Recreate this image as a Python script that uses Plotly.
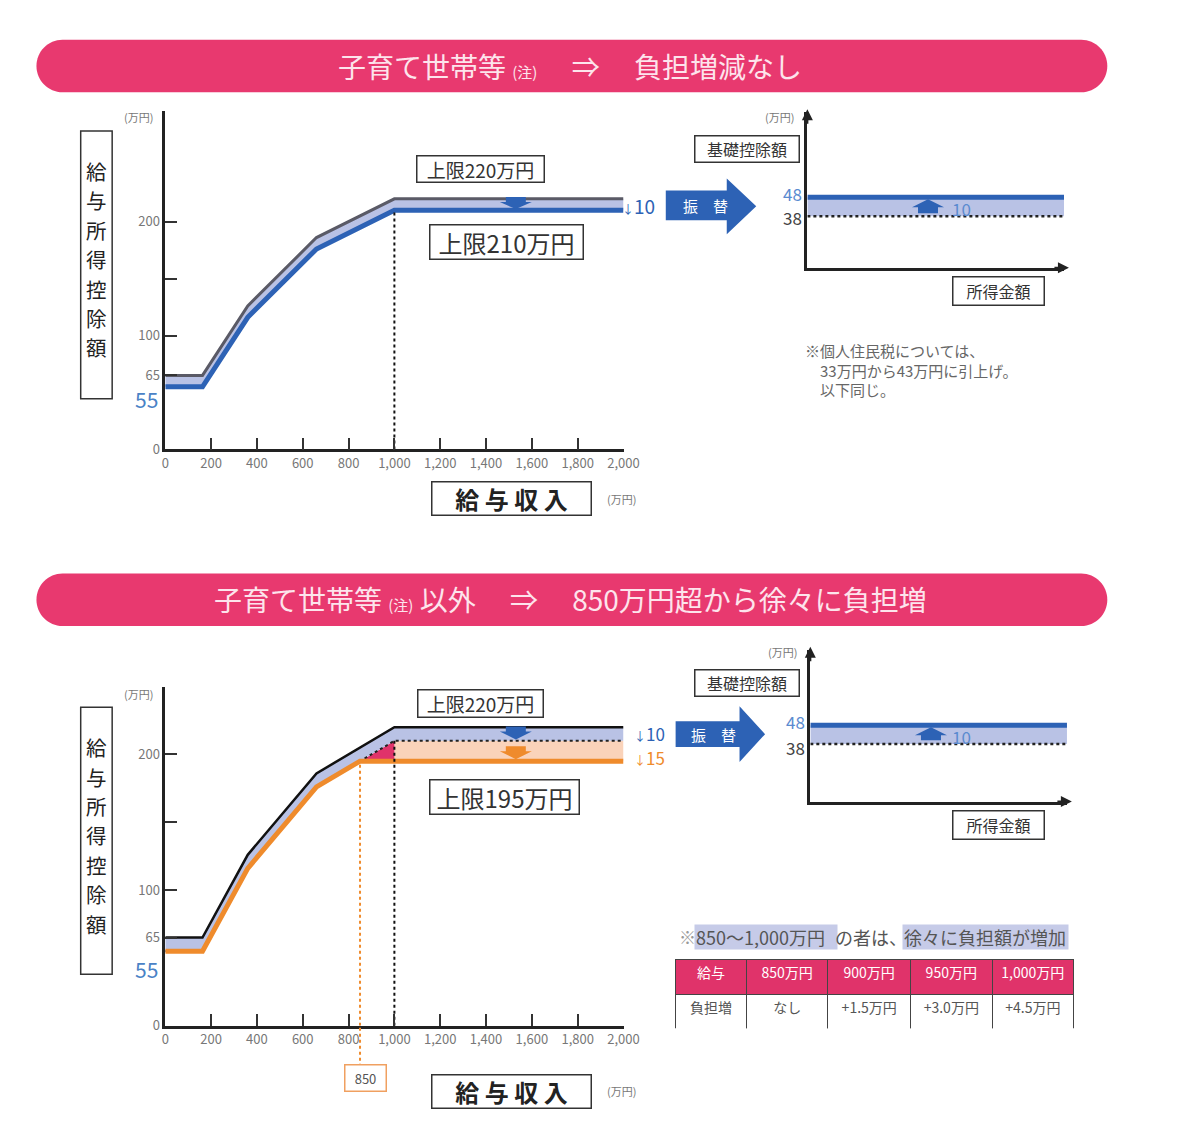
import numpy as np
import plotly.graph_objects as go

# ---------------- data ----------------
income_old = [0, 162.5, 360, 660, 1000, 2000]          # 給与収入 (万円)
deduction_old = [65, 65, 126, 186, 220, 220]            # 現行 給与所得控除額
income_child = [0, 162.5, 360, 660, 1000, 2000]
deduction_child = [55, 55, 116, 176, 210, 210]          # 子育て世帯等
income_other = [0, 162.5, 360, 660, 850, 2000]
deduction_other = [55, 55, 116, 176, 195, 195]          # 子育て世帯等以外
cap_income = 1000
threshold_income = 850
basic_old = 38
basic_new = 48
basic_x = [0, 100]
x_tickvals = list(range(0, 2001, 200))
y_tickvals = [0, 65, 100, 150, 200]
y_ticktext = ["0", "65", "100", "", "200"]
table_header = ["給与", "850万円", "900万円", "950万円", "1,000万円"]
table_row = ["負担増", "なし", "+1.5万円", "+3.0万円", "+4.5万円"]

# ---------------- style ----------------
W, H = 1200, 1139
FONT = "Noto Sans CJK JP, Noto Sans, sans-serif"
PINK = "#e8396f"
BLUE = "#2d62b5"
LAV = "#b9c2e5"
ORANGE = "#ef8b2c"
PEACH = "#fad3ba"
RED = "#e0336a"
AX = "#222222"
TICK = "#777777"


def px(x):
    return x / W


def py(y):
    return 1 - y / H


def pt(x, y):
    return f"{px(x):.5f},{py(y):.5f}"


fig = go.Figure()

# ---- top-left chart ----
fig.add_trace(go.Scatter(x=income_child, y=deduction_child, mode="lines",
                         line=dict(color=BLUE, width=5), xaxis="x", yaxis="y"))
fig.add_trace(go.Scatter(x=income_old, y=deduction_old, mode="lines", fill="tonexty",
                         fillcolor=LAV, line=dict(color="#5a5a66", width=3),
                         xaxis="x", yaxis="y"))
cap_child = float(np.interp(cap_income, income_child, deduction_child))
fig.add_trace(go.Scatter(x=[cap_income, cap_income], y=[0, cap_child], mode="lines",
                         line=dict(color="#111", width=2, dash="dot"), xaxis="x", yaxis="y"))

# ---- bottom-left chart ----
cap_other = deduction_other[-1]
thr_val = float(np.interp(threshold_income, income_child, deduction_child))
fig.add_trace(go.Scatter(x=[cap_income, income_child[-1], income_child[-1], cap_income],
                         y=[cap_child, deduction_child[-1], cap_other, cap_other],
                         mode="lines", fill="toself", fillcolor=PEACH, line=dict(width=0),
                         xaxis="x3", yaxis="y3"))
fig.add_trace(go.Scatter(x=[threshold_income, cap_income, cap_income],
                         y=[thr_val, cap_child, cap_other],
                         mode="lines", fill="toself", fillcolor=RED, line=dict(width=0),
                         xaxis="x3", yaxis="y3"))
fig.add_trace(go.Scatter(x=income_child, y=deduction_child, mode="lines",
                         line=dict(color="#222", width=2, dash="dot"), xaxis="x3", yaxis="y3"))
fig.add_trace(go.Scatter(x=income_old, y=deduction_old, mode="lines", fill="tonexty",
                         fillcolor=LAV, line=dict(color="#111", width=2.5),
                         xaxis="x3", yaxis="y3"))
fig.add_trace(go.Scatter(x=income_other, y=deduction_other, mode="lines",
                         line=dict(color=ORANGE, width=5), xaxis="x3", yaxis="y3"))
fig.add_trace(go.Scatter(x=[cap_income, cap_income], y=[0, cap_child], mode="lines",
                         line=dict(color="#111", width=2, dash="dot"), xaxis="x3", yaxis="y3"))
fig.add_trace(go.Scatter(x=[threshold_income, threshold_income], y=[0, thr_val], mode="lines",
                         line=dict(color=ORANGE, width=2, dash="dot"), xaxis="x3", yaxis="y3"))

# ---- mini charts (基礎控除) ----
for xa, ya in (("x2", "y2"), ("x4", "y4")):
    fig.add_trace(go.Scatter(x=basic_x, y=[basic_old, basic_old], mode="lines",
                             line=dict(color="#222", width=2.5, dash="dot"), xaxis=xa, yaxis=ya))
    fig.add_trace(go.Scatter(x=basic_x, y=[basic_new, basic_new], mode="lines", fill="tonexty",
                             fillcolor=LAV, line=dict(color=BLUE, width=5), xaxis=xa, yaxis=ya))

# ---- table ----
fig.add_trace(go.Table(
    domain=dict(x=[px(683), px(1088)], y=[py(1037), py(967)]),
    columnwidth=[72, 83, 84, 83, 83],
    header=dict(values=table_header, fill_color=RED, align="center", height=35,
                font=dict(color="white", size=14, family=FONT),
                line=dict(color="#444", width=1)),
    cells=dict(values=[[v] for v in table_row], fill_color="white", align="center", height=35,
               font=dict(color="#555", size=14, family=FONT),
               line=dict(color="#444", width=1)),
))

# ---------------- axes ----------------
main_x = dict(range=[0, 2000], tickvals=x_tickvals, tickformat=",", ticks="inside",
              ticklen=12, tickwidth=2, tickcolor="#333", showline=True, linewidth=2.5,
              linecolor=AX, showgrid=False, zeroline=False,
              tickfont=dict(size=13, color=TICK, family=FONT))
main_y = dict(tickvals=y_tickvals, ticktext=y_ticktext, ticks="inside", ticklen=12,
              tickwidth=2, tickcolor="#333", showline=True, linewidth=2.5, linecolor=AX,
              showgrid=False, zeroline=False, tickfont=dict(size=13, color=TICK, family=FONT))
mini_x = dict(range=[0, 100], showline=True, linewidth=2.5, linecolor=AX, showgrid=False,
              zeroline=False, showticklabels=False, ticks="")
mini_y = dict(showline=True, linewidth=2.5, linecolor=AX, showgrid=False, zeroline=False,
              ticks="", showticklabels=False)

fig.update_layout(
    width=W, height=H, margin=dict(l=0, r=0, t=0, b=0),
    paper_bgcolor="white", plot_bgcolor="rgba(0,0,0,0)", showlegend=False,
    xaxis=dict(domain=[px(164), px(630)], anchor="y", **main_x),
    yaxis=dict(domain=[py(453), py(112)], range=[0, 297], anchor="x", **main_y),
    xaxis3=dict(domain=[px(164), px(630)], anchor="y3", **main_x),
    yaxis3=dict(domain=[py(1034), py(692)], range=[0, 250], anchor="x3", **main_y),
    xaxis2=dict(domain=[px(817), px(1078)], anchor="y2", **mini_x),
    yaxis2=dict(domain=[py(270), py(113)], range=[10.6, 93.2], anchor="x2", **mini_y),
    xaxis4=dict(domain=[px(820), px(1081)], anchor="y4", **mini_x),
    yaxis4=dict(domain=[py(808), py(655)], range=[7.5, 88], anchor="x4", **mini_y),
)

# ---------------- shapes ----------------
shapes = []


def rounded_bar(x0, y0, x1, y1, color):
    r = (y1 - y0) / 2
    ym = (y0 + y1) / 2
    k = 0.5523 * r
    path = (f"M {pt(x0 + r, y0)} L {pt(x1 - r, y0)} "
            f"C {pt(x1 - r + k, y0)} {pt(x1, ym - k)} {pt(x1, ym)} "
            f"C {pt(x1, ym + k)} {pt(x1 - r + k, y1)} {pt(x1 - r, y1)} "
            f"L {pt(x0 + r, y1)} "
            f"C {pt(x0 + r - k, y1)} {pt(x0, ym + k)} {pt(x0, ym)} "
            f"C {pt(x0, ym - k)} {pt(x0 + r - k, y0)} {pt(x0 + r, y0)} Z")
    return dict(type="path", path=path, xref="paper", yref="paper",
                fillcolor=color, line=dict(width=0), layer="below")


def block_arrow(x0, xh, xt, sy0, sy1, hy0, hy1, color):
    ym = (hy0 + hy1) / 2
    path = (f"M {pt(x0, sy0)} L {pt(xh, sy0)} L {pt(xh, hy0)} L {pt(xt, ym)} "
            f"L {pt(xh, hy1)} L {pt(xh, sy1)} L {pt(x0, sy1)} Z")
    return dict(type="path", path=path, xref="paper", yref="paper",
                fillcolor=color, line=dict(width=0))


def small_arrow(xref, yref, xa, ya, color, down=True, h=12):
    # pixel-sized "house" arrow anchored at its tip
    s = 1 if down else -1
    hh = round(h * 0.6)
    path = (f"M 0,0 L {-16},{s * hh} L {-10},{s * hh} L {-10},{s * h} "
            f"L 10,{s * h} L 10,{s * hh} L 16,{s * hh} Z")
    return dict(type="path", xref=xref, yref=yref, xsizemode="pixel", ysizemode="pixel",
                xanchor=xa, yanchor=ya, path=path, fillcolor=color, line=dict(width=0))


def rect(x0, y0, x1, y1, color="#333"):
    return dict(type="rect", xref="paper", yref="paper", x0=px(x0), x1=px(x1),
                y0=py(y1), y1=py(y0), line=dict(color=color, width=1.5), fillcolor="white",
                layer="below")


shapes.append(rounded_bar(33, 40, 1122, 93, PINK))
shapes.append(rounded_bar(33, 578, 1122, 631, PINK))
shapes.append(block_arrow(673, 735, 765, 192, 222, 180, 236, BLUE))
shapes.append(block_arrow(683, 748, 774, 727, 753, 712, 768, BLUE))
shapes.append(dict(type="line", xref="x3", yref="paper", x0=threshold_income, x1=threshold_income,
                   y0=py(1036), y1=py(1073), line=dict(color=ORANGE, width=2, dash="dot")))
shapes.append(small_arrow("x", "y", 1530, cap_child + 1, BLUE, True, 12))
shapes.append(small_arrow("x3", "y3", 1530, cap_child + 1, BLUE, True, 13))
shapes.append(small_arrow("x3", "y3", 1530, cap_other + 1.5, ORANGE, True, 13))
shapes.append(small_arrow("x2", "y2", 47, basic_new - 1, BLUE, False, 14))
shapes.append(small_arrow("x4", "y4", 47, basic_new - 1, BLUE, False, 13))
shapes.append(rect(78, 132, 110, 402))
shapes.append(rect(78, 713, 110, 982))
fig.update_layout(shapes=shapes)

# ---------------- annotations ----------------
ann = []


def txt(x, y, text, size=14, color="#333", xanchor="center", yanchor="middle", **kw):
    d = dict(x=px(x), y=py(y), xref="paper", yref="paper", text=text, showarrow=False,
             font=dict(size=size, color=color, family=FONT), xanchor=xanchor, yanchor=yanchor)
    d.update(kw)
    return d


def boxed(cx, cy, w, h, text, size, color="#333", border="#333"):
    return txt(cx, cy, text, size=size, color=color, width=w, height=h,
               bordercolor=border, borderwidth=1.5, borderpad=0, bgcolor="white",
               align="center", valign="middle")


def axis_arrow(x, y, ax, ay):
    return dict(x=px(x), y=py(y), xref="paper", yref="paper", text="", showarrow=True,
                ax=ax, ay=ay, arrowhead=2, arrowsize=1.1, arrowwidth=2, arrowcolor=AX)


banner_font = "#fde4ec"
ann.append(txt(576, 67, "子育て世帯等 <span style='font-size:15px'>(注)</span>　 ⇒　 負担増減なし",
               size=28, color=banner_font))
ann.append(txt(576, 604, "子育て世帯等 <span style='font-size:15px'>(注)</span> 以外　 ⇒　 850万円超から徐々に負担増",
               size=28, color=banner_font))

# vertical y-axis titles, one glyph per annotation
for first_y in (172, 753):
    for i, ch in enumerate("給与所得控除額"):
        ann.append(txt(94, first_y + i * 29.7, ch, size=20.5, color="#222"))

# top chart labels
ann.append(txt(137, 118, "(万円)", size=11, color=TICK))
ann.append(txt(628, 503, "(万円)", size=11, color=TICK))
ann.append(txt(145, 402, "55", size=21, color="#4a82c6"))
ann.append(boxed(485, 170, 126, 25, "上限220万円", 19))
ann.append(boxed(511, 244, 152, 33, "上限210万円", 24))
ann.append(boxed(516, 502, 158, 32, "<b>給 与 収 入</b>", 24, color="#222"))
ann.append(txt(645, 207, "<span style='font-size:12px'>↓</span>10", size=19, color=BLUE))

# bottom chart labels
ann.append(txt(137, 700, "(万円)", size=11, color=TICK))
ann.append(txt(628, 1100, "(万円)", size=11, color=TICK))
ann.append(txt(145, 977, "55", size=21, color="#4a82c6"))
ann.append(boxed(485, 709, 124, 26, "上限220万円", 19))
ann.append(boxed(509, 803, 148, 33, "上限195万円", 24))
ann.append(boxed(516, 1100, 158, 32, "<b>給 与 収 入</b>", 24, color="#222"))
ann.append(boxed(367.5, 1086.5, 40, 25, "850", 13, color="#555", border="#f0a060"))
ann.append(txt(656, 739, "<span style='font-size:12px'>↓</span>10", size=17, color=BLUE))
ann.append(txt(656, 764, "<span style='font-size:12px'>↓</span>15", size=17, color=ORANGE))

# 振替 arrows
ann.append(txt(713, 207, "振　替", size=15, color="white"))
ann.append(txt(722, 740, "振　替", size=15, color="white"))

# mini charts
for (yaxis_top, xaxis_end, y0ax, xlab, lab_y, box1_y, box2_y, ten_y, y48, y38) in (
        (110, 1083, 270, 817, 118, 150, 293.5, 210, 195, 219),
        (652, 1086, 808, 820, 657, 688, 831.5, 742, 727, 753)):
    ann.append(axis_arrow(xlab, yaxis_top, 0, 16))
    ann.append(axis_arrow(xaxis_end, y0ax, -16, 0))
    ann.append(txt(xlab - 28, lab_y, "(万円)", size=11, color=TICK))
    ann.append(boxed(755.5, box1_y, 103, 25, "基礎控除額", 16))
    ann.append(boxed(1011, box2_y, 90, 27, "所得金額", 16))
    ann.append(txt(974, ten_y, "10", size=17, color="#5b8bd0"))
    ann.append(txt(xlab - 3, y48, str(basic_new), size=17, color="#5b8bd0", xanchor="right"))
    ann.append(txt(xlab - 3, y38, str(basic_old), size=17, color="#444", xanchor="right"))

ann.append(txt(813, 341, "※個人住民税については、<br>　33万円から43万円に引上げ。<br>　以下同じ。",
               size=15, color="#666", xanchor="left", yanchor="top", align="left"))

# note above table
ann.append(txt(684, 944, "※", size=17, color="#999", xanchor="left"))
ann.append(txt(702, 944, "850〜1,000万円", size=18, color="#555", xanchor="left",
               bgcolor="#c6cbe8", width=140, height=22, align="left"))
ann.append(txt(843, 944, "の者は、", size=18, color="#555", xanchor="left"))
ann.append(txt(913, 944, "徐々に負担額が増加", size=18, color="#555", xanchor="left",
               bgcolor="#c6cbe8", width=163, height=22, align="left"))

fig.update_layout(annotations=ann)

fig.write_html("out.html")
